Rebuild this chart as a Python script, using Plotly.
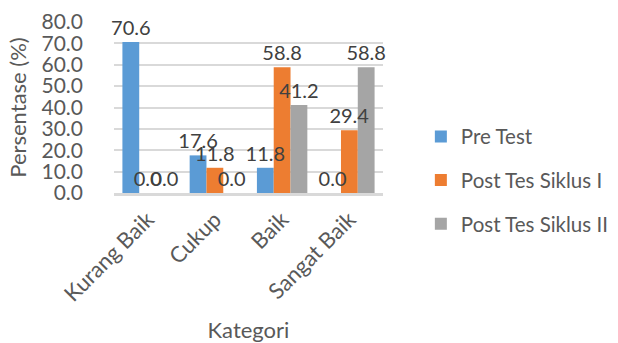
import plotly.graph_objects as go

categories = ["Kurang Baik", "Cukup", "Baik", "Sangat Baik"]
pre_test = [70.6, 17.6, 11.8, 0.0]
post_siklus_1 = [0.0, 11.8, 58.8, 29.4]
post_siklus_2 = [0.0, 0.0, 41.2, 58.8]
series_names = ["Pre Test", "Post Tes Siklus I", "Post Tes Siklus II"]
colors = ["#5b9bd5", "#ed7d31", "#a5a5a5"]
y_ticks = [0, 10, 20, 30, 40, 50, 60, 70, 80]

FONT = "Lato"
TXT = "#595959"
all_vals = [pre_test, post_siklus_1, post_siklus_2]

fig = go.Figure()
# bars
for i, (name, vals) in enumerate(zip(series_names, all_vals)):
    fig.add_trace(go.Bar(
        x=categories, y=vals, name=name,
        marker=dict(color=colors[i], line=dict(width=0)),
        offsetgroup=str(i), legendgroup=name,
    ))
# value labels drawn on top of all bars
for i, (name, vals) in enumerate(zip(series_names, all_vals)):
    fig.add_trace(go.Bar(
        x=categories, y=vals, name=name, showlegend=False,
        marker=dict(color="rgba(0,0,0,0)", line=dict(width=0)),
        offsetgroup=str(i), legendgroup=name,
        text=[f"{v:.1f}" for v in vals],
        textposition="outside", constraintext="none",
        textfont=dict(family=FONT, size=20, color="#404040"),
        cliponaxis=False, hoverinfo="skip",
    ))

fig.update_layout(
    width=618, height=343,
    margin=dict(l=114, r=235, t=22, b=150, autoexpand=False),
    paper_bgcolor="white", plot_bgcolor="white",
    barmode="group", bargap=0.25, bargroupgap=0.0,
    uniformtext=dict(minsize=20, mode="show"),
    font=dict(family=FONT, size=20, color=TXT),
    legend=dict(
        x=0.681, xanchor="left", xref="container", y=0.475, yanchor="middle", yref="container",
        font=dict(family=FONT, size=20.5, color=TXT),
        tracegroupgap=14, traceorder="grouped", itemwidth=30,
    ),
    xaxis=dict(
        tickangle=-45, tickfont=dict(family=FONT, size=22, color=TXT),
        showline=True, linecolor="#d9d9d9", linewidth=3,
        ticklabelstandoff=2, automargin=False,
        title=dict(text="Kategori", font=dict(family=FONT, size=22, color=TXT), standoff=20),
    ),
    yaxis=dict(
        range=[0, 80], tickvals=y_ticks, ticktext=[f"{v:.1f}" for v in y_ticks],
        tickfont=dict(family=FONT, size=21, color=TXT),
        showgrid=True, gridcolor="#d9d9d9", gridwidth=1.5,
        zeroline=False, ticklabelstandoff=30, automargin=False,
        title=dict(text="Persentase (%)", font=dict(family=FONT, size=22, color=TXT), standoff=8),
    ),
)

fig.write_html("out.html")
